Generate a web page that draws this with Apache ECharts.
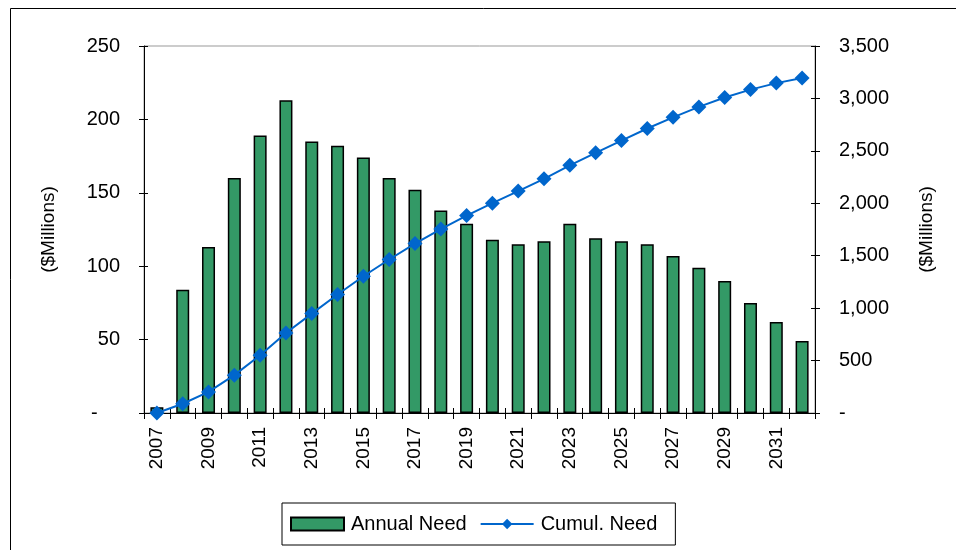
<!DOCTYPE html>
<html>
<head>
<meta charset="utf-8">
<script src="https://cdn.jsdelivr.net/npm/echarts@6/dist/echarts.min.js"></script>
<style>html,body{margin:0;padding:0;background:#fff;}#c{width:956px;height:550px;}</style>
</head>
<body>
<div id="c"></div>
<script>
var years = ['2007','2008','2009','2010','2011','2012','2013','2014','2015','2016','2017','2018','2019','2020','2021','2022','2023','2024','2025','2026','2027','2028','2029','2030','2031','2032'];
var annualNeed = [4, 84, 113, 160, 189, 213, 185, 182, 174, 160, 152, 138, 129, 118, 115, 117, 129, 119, 117, 115, 107, 99, 90, 75, 62, 49];
var cumulNeed = [0, 88, 201, 361, 550, 763, 948, 1130, 1304, 1464, 1616, 1754, 1883, 2001, 2116, 2233, 2362, 2481, 2598, 2713, 2820, 2919, 3009, 3084, 3146, 3195];
var leftAxis = {min: 0, max: 250, interval: 50};
var rightAxis = {min: 0, max: 3500, interval: 500};

var FONT = "'Liberation Sans', Arial, sans-serif";
var chart = echarts.init(document.getElementById('c'), null, {renderer: 'canvas'});
function leftFmt(v){ return v === 0 ? '-    ' : String(v); }
function rightFmt(v){ return v === 0 ? '-' : v.toLocaleString('en-US'); }
var tickStyle = {color: '#000', width: 1};
chart.setOption({
  animation: false,
  backgroundColor: '#fff',
  textStyle: {fontFamily: FONT, color: '#000'},
  graphic: [{
    type: 'rect', left: 8, top: 6, silent: true,
    shape: {x: 0, y: 0, width: 1000, height: 1000},
    style: {fill: 'none', stroke: '#000', lineWidth: 1}
  }],
  grid: {left: 144, right: 141, top: 46, bottom: 137, show: true, borderColor: '#999', borderWidth: 1, backgroundColor: 'transparent'},
  legend: {
    left: 282, top: 503, orient: 'horizontal',
    padding: [11, 18, 11, 8], itemGap: 13, itemWidth: 53, itemHeight: 13,
    borderColor: '#000', borderWidth: 1,
    textStyle: {fontFamily: FONT, fontSize: 20, color: '#000', padding: [0, 0, 0, 2]},
    data: [{name: 'Annual Need', icon: 'rect'}, {name: 'Cumul. Need'}]
  },
  xAxis: [{
    type: 'category', data: years, position: 'bottom', boundaryGap: true,
    axisLine: {show: true, onZero: false, lineStyle: {color: '#000', width: 1}},
    axisTick: {show: true, interval: 0, length: 6, lineStyle: tickStyle},
    axisLabel: {interval: 1, rotate: 90, margin: 14, fontSize: 19, fontFamily: FONT, color: '#000'},
    splitLine: {show: false}
  }, {
    type: 'category', data: years, position: 'bottom', boundaryGap: true,
    axisLine: {show: false, onZero: false},
    axisTick: {show: true, inside: true, interval: 0, length: 5, lineStyle: tickStyle},
    axisLabel: {show: false}, splitLine: {show: false}
  }],
  yAxis: [{
    type: 'value', position: 'left', min: leftAxis.min, max: leftAxis.max, interval: leftAxis.interval,
    name: '($Millions)', nameLocation: 'middle', nameRotate: 90, nameGap: 86,
    nameTextStyle: {fontSize: 19, fontFamily: FONT, color: '#000'},
    axisLine: {show: true, lineStyle: {color: '#000', width: 1}},
    axisTick: {show: true, length: 5, lineStyle: tickStyle},
    axisLabel: {formatter: leftFmt, margin: 24, fontSize: 20, fontFamily: FONT, color: '#000'},
    splitLine: {show: false}
  }, {
    type: 'value', position: 'right', min: rightAxis.min, max: rightAxis.max, interval: rightAxis.interval,
    name: '($Millions)', nameLocation: 'middle', nameRotate: 90, nameGap: 102,
    nameTextStyle: {fontSize: 19, fontFamily: FONT, color: '#000'},
    axisLine: {show: true, lineStyle: {color: '#000', width: 1}},
    axisTick: {show: true, length: 5, lineStyle: tickStyle},
    axisLabel: {formatter: rightFmt, margin: 24, fontSize: 20, fontFamily: FONT, color: '#000'},
    splitLine: {show: false}
  }, {
    type: 'value', position: 'left', min: leftAxis.min, max: leftAxis.max, interval: leftAxis.interval,
    axisLine: {show: false}, axisTick: {show: true, inside: true, length: 4, lineStyle: tickStyle},
    axisLabel: {show: false}, splitLine: {show: false}
  }, {
    type: 'value', position: 'right', min: rightAxis.min, max: rightAxis.max, interval: rightAxis.interval,
    axisLine: {show: false}, axisTick: {show: true, inside: true, length: 4, lineStyle: tickStyle},
    axisLabel: {show: false}, splitLine: {show: false}
  }],
  series: [{
    name: 'Annual Need', type: 'bar', xAxisIndex: 0, yAxisIndex: 0,
    data: annualNeed, barWidth: 13,
    itemStyle: {color: '#339966', borderColor: '#000', borderWidth: 1.5}
  }, {
    name: 'Cumul. Need', type: 'line', xAxisIndex: 0, yAxisIndex: 1,
    data: cumulNeed, symbol: 'diamond', symbolSize: 15, z: 5,
    lineStyle: {color: '#0066CC', width: 2},
    itemStyle: {color: '#0066CC'}
  }]
});
</script>
</body>
</html>
